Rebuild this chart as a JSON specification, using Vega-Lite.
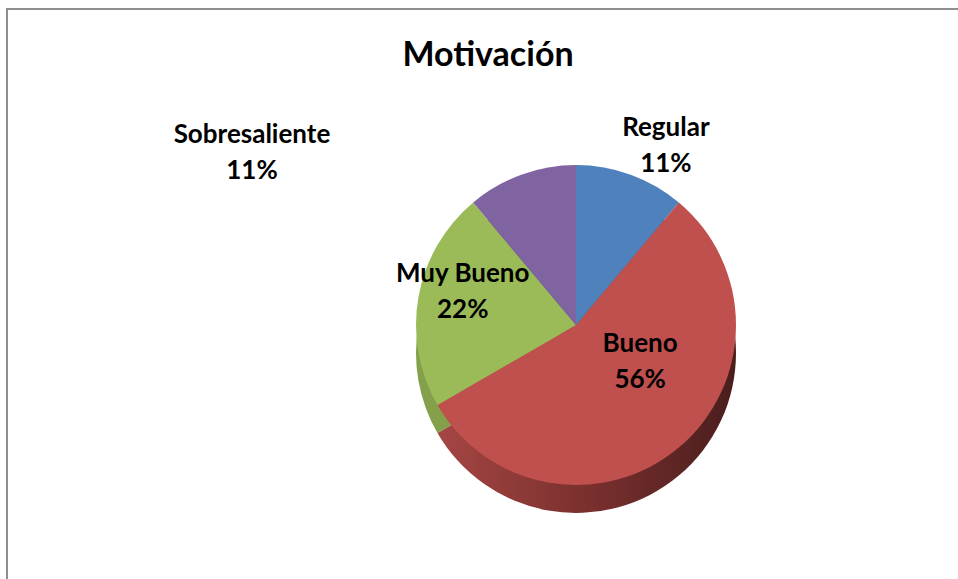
{
  "$schema": "https://vega.github.io/schema/vega-lite/v6.json",
  "autosize": "none",
  "width": 951,
  "height": 570,
  "padding": {"left": 7, "top": 9, "right": 0, "bottom": 0},
  "background": "white",
  "title": {"text": "Motivación", "font": "Lato", "fontSize": 34, "fontWeight": "bold", "color": "#000000", "anchor": "middle", "frame": "group", "offset": -64, "dx": 5.5, "dy": 55},
  "data": {"values": [
    {"idx": 1, "cat": "Regular", "count": 1, "label": "Regular\n11%"},
    {"idx": 2, "cat": "Bueno", "count": 5, "label": "Bueno\n56%"},
    {"idx": 3, "cat": "Muy Bueno", "count": 2, "label": "Muy Bueno\n22%"},
    {"idx": 4, "cat": "Sobresaliente", "count": 1, "label": "Sobresaliente\n11%"}
  ]},
  "layer": [
    {
      "data": {"values": [{"frame": 1}]},
      "mark": {"type": "rect", "fill": null, "stroke": "#8f8f8f", "strokeWidth": 2, "strokeDash": [951, 1521, 570]},
      "encoding": {}
    },
    {
      "mark": {"type": "arc", "radius": 160, "xOffset": 93.5, "yOffset": 59},
      "encoding": {
        "theta": {"field": "count", "type": "quantitative", "stack": true},
        "detail": {"field": "cat"},
        "order": {"field": "idx", "type": "quantitative"},
        "fill": {
          "condition": [
            {"test": "datum.cat === 'Bueno'", "value": {"gradient": "linear", "x1": 0, "y1": 0, "x2": 1, "y2": 0, "stops": [{"offset": 0, "color": "#a54643"}, {"offset": 0.5, "color": "#7a302e"}, {"offset": 1, "color": "#4a1e1e"}]}},
            {"test": "datum.cat === 'Muy Bueno'", "value": "#84a04a"},
            {"test": "datum.cat === 'Sobresaliente'", "value": "#64507f"}
          ],
          "value": "#3d6696"
        }
      }
    },
    {
      "mark": {"type": "arc", "radius": 160, "xOffset": 93.5, "yOffset": 31},
      "encoding": {
        "theta": {"field": "count", "type": "quantitative", "stack": true},
        "order": {"field": "idx", "type": "quantitative"},
        "color": {"field": "cat", "type": "nominal", "legend": null,
          "scale": {"domain": ["Regular", "Bueno", "Muy Bueno", "Sobresaliente"], "range": ["#4f81bd", "#c0504d", "#9bbb59", "#8064a2"]}}
      }
    },
    {
      "mark": {"type": "text", "font": "Lato", "fontWeight": "bold", "fontSize": 26, "lineBreak": "\n", "lineHeight": 36, "color": "#000000", "baseline": "middle", "align": "center", "radius": 200, "thetaOffset": 0.117, "xOffset": 93.5, "yOffset": 13},
      "encoding": {
        "theta": {"field": "count", "type": "quantitative", "stack": true},
        "detail": {"field": "cat"},
        "order": {"field": "idx", "type": "quantitative"},
        "text": {"condition": {"test": "datum.cat === 'Regular'", "field": "label"}, "value": ""}
      }
    },
    {
      "mark": {"type": "text", "font": "Lato", "fontWeight": "bold", "fontSize": 26, "lineBreak": "\n", "lineHeight": 36, "color": "#000000", "baseline": "middle", "align": "center", "radius": 74, "thetaOffset": -0.35, "xOffset": 93.5, "yOffset": 13},
      "encoding": {
        "theta": {"field": "count", "type": "quantitative", "stack": true},
        "detail": {"field": "cat"},
        "order": {"field": "idx", "type": "quantitative"},
        "text": {"condition": {"test": "datum.cat === 'Bueno'", "field": "label"}, "value": ""}
      }
    },
    {
      "mark": {"type": "text", "font": "Lato", "fontWeight": "bold", "fontSize": 26, "lineBreak": "\n", "lineHeight": 36, "color": "#000000", "baseline": "middle", "align": "center", "radius": 118, "thetaOffset": 0.11, "xOffset": 93.5, "yOffset": 13},
      "encoding": {
        "theta": {"field": "count", "type": "quantitative", "stack": true},
        "detail": {"field": "cat"},
        "order": {"field": "idx", "type": "quantitative"},
        "text": {"condition": {"test": "datum.cat === 'Muy Bueno'", "field": "label"}, "value": ""}
      }
    },
    {
      "mark": {"type": "text", "font": "Lato", "fontWeight": "bold", "fontSize": 26, "lineBreak": "\n", "lineHeight": 36, "color": "#000000", "baseline": "middle", "align": "center", "radius": 367, "thetaOffset": -0.733, "xOffset": 93.5, "yOffset": 13},
      "encoding": {
        "theta": {"field": "count", "type": "quantitative", "stack": true},
        "detail": {"field": "cat"},
        "order": {"field": "idx", "type": "quantitative"},
        "text": {"condition": {"test": "datum.cat === 'Sobresaliente'", "field": "label"}, "value": ""}
      }
    }
  ]
}
